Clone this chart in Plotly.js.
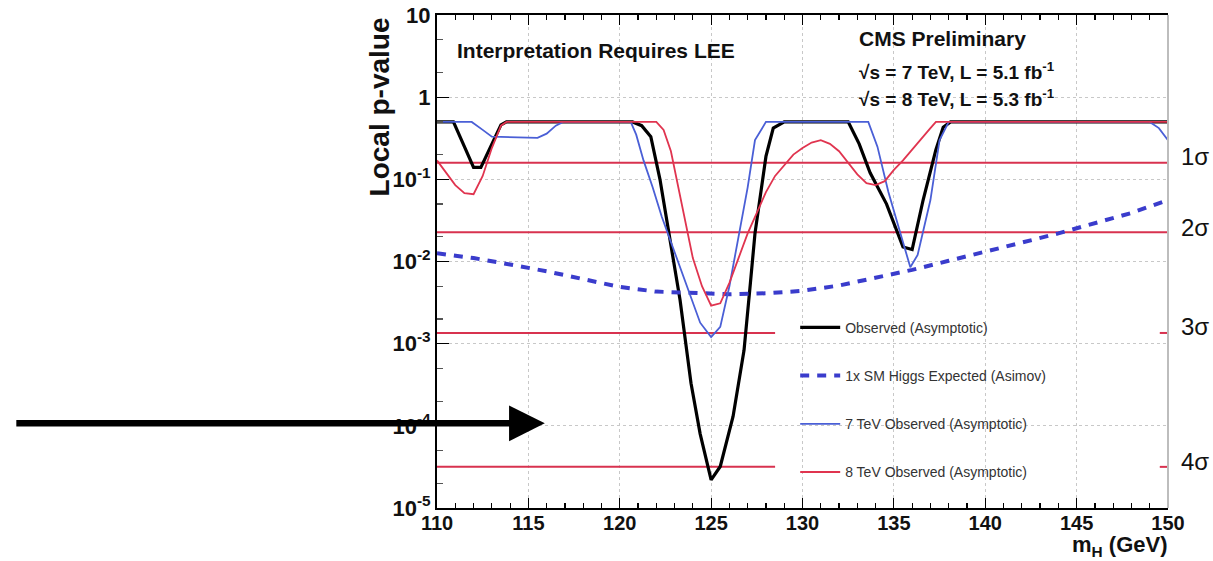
<!DOCTYPE html>
<html>
<head>
<meta charset="utf-8">
<script src="https://cdn.plot.ly/plotly-3.0.1.min.js"></script>
<style>html,body{margin:0;padding:0;background:#fff;}#chart{width:1213px;height:561px;}</style>
</head>
<body>
<div id="chart"></div>
<script>
// ---- data ----
const obsMass = [110, 110.9, 111.5, 112, 112.4, 113, 113.5, 113.8, 120.7, 121.2, 121.7, 122.2, 122.7, 123.3, 123.9, 124.4, 125, 125.5, 126.2, 126.8, 127.15, 127.4, 128, 128.4, 129, 132.5, 133.1, 133.7, 134.6, 135.5, 136, 136.6, 137.3, 137.7, 138.1, 150];
const obsP = [0.5, 0.5, 0.25, 0.14, 0.14, 0.27, 0.46, 0.5, 0.5, 0.45, 0.33, 0.1, 0.022, 0.0034, 3.3e-4, 8e-5, 2.2e-5, 3.2e-5, 1.3e-4, 8.3e-4, 0.0055, 0.022, 0.19, 0.42, 0.5, 0.5, 0.27, 0.12, 0.05, 0.015, 0.014, 0.056, 0.23, 0.43, 0.5, 0.5];

const expMass = [110, 112, 114, 116, 118, 120, 122, 124, 126, 128, 130, 132, 134, 136, 138, 140, 142, 144, 146, 148, 150];
const expP = [0.0126, 0.011, 0.0092, 0.0076, 0.0061, 0.0049, 0.0043, 0.0041, 0.004, 0.0041, 0.0044, 0.0051, 0.0063, 0.0079, 0.0102, 0.013, 0.017, 0.022, 0.029, 0.039, 0.056];

const tev7Mass = [110, 111.9, 112.5, 113, 115.5, 116, 116.5, 116.9, 120.6, 120.9, 121.3, 121.8, 122.3, 122.7, 123.3, 123.9, 124.4, 125, 125.5, 126, 126.5, 127, 127.4, 128, 133.6, 134.1, 134.7, 135.4, 135.9, 136.3, 137, 137.5, 138, 149, 149.5, 150];
const tev7P = [0.5, 0.5, 0.4, 0.33, 0.32, 0.36, 0.45, 0.5, 0.5, 0.35, 0.17, 0.08, 0.035, 0.02, 0.0085, 0.0037, 0.0018, 0.0012, 0.0016, 0.005, 0.02, 0.08, 0.3, 0.5, 0.5, 0.25, 0.07, 0.02, 0.0085, 0.012, 0.056, 0.3, 0.5, 0.5, 0.42, 0.3];

const tev8Mass = [110, 110.5, 111, 111.5, 112, 112.5, 113, 113.5, 113.8, 122, 122.4, 122.8, 123.2, 123.6, 124, 124.5, 125, 125.5, 126, 126.5, 127, 127.5, 128, 128.5, 129, 129.5, 130, 130.5, 131, 131.5, 132, 132.5, 133, 133.5, 134, 134.5, 135, 135.5, 136, 136.5, 137, 137.3, 150];
const tev8P = [0.17, 0.12, 0.085, 0.068, 0.066, 0.11, 0.24, 0.45, 0.5, 0.5, 0.4, 0.22, 0.08, 0.03, 0.011, 0.005, 0.0029, 0.0031, 0.0055, 0.011, 0.022, 0.039, 0.07, 0.11, 0.15, 0.2, 0.24, 0.28, 0.3, 0.27, 0.22, 0.16, 0.115, 0.09, 0.085, 0.095, 0.13, 0.17, 0.23, 0.32, 0.42, 0.5, 0.5];

const sigmaP = [0.1587, 0.02275, 0.00135, 3.167e-5];
const sigmaLabels = ["1σ", "2σ", "3σ", "4σ"];
const sigmaLabelY = [0.712, 0.568, 0.369, 0.095];
const seriesNames = ["Observed (Asymptotic)", "1x SM Higgs Expected (Asimov)", "7 TeV Observed (Asymptotic)", "8 TeV Observed (Asymptotic)"];

const xTicks = [110, 115, 120, 125, 130, 135, 140, 145, 150];
const yTickVals = [1e-5, 1e-4, 1e-3, 1e-2, 1e-1, 1, 10];
const yTickText = ['10<sup>-5</sup>', '10<sup>-4</sup>', '10<sup>-3</sup>', '10<sup>-2</sup>', '10<sup>-1</sup>', '1', '10'];

// ---- traces ----
const traces = [];
const sigColor = '#d8324f';
sigmaP.forEach((p, i) => {
  const full = i < 2;
  traces.push({
    x: full ? [110, 150] : [110, 128.5, null, 149.55, 149.95],
    y: full ? [p, p] : [p, p, null, p, p],
    mode: 'lines', line: {color: sigColor, width: 2},
    showlegend: false, hoverinfo: 'skip', connectgaps: false
  });
});
traces.push({x: obsMass, y: obsP, name: seriesNames[0], legendgroup: 'a', mode: 'lines', line: {color: '#000', width: 3.2}});
traces.push({x: expMass, y: expP, name: seriesNames[1], legendgroup: 'b', mode: 'lines', line: {color: '#3a3ccc', width: 4, dash: '9px,8px'}});
traces.push({x: tev7Mass, y: tev7P, name: seriesNames[2], legendgroup: 'c', mode: 'lines', line: {color: '#4a5fd6', width: 1.8}});
traces.push({x: tev8Mass, y: tev8P, name: seriesNames[3], legendgroup: 'd', mode: 'lines', line: {color: '#e0344f', width: 1.8}});

const F = 'Liberation Sans, Arial, sans-serif';
const annotations = [
  {xref: 'paper', yref: 'paper', x: 0.024, y: 0.927, xanchor: 'left', yanchor: 'middle', showarrow: false,
   text: 'Interpretation Requires LEE', font: {family: F, size: 21, color: '#111', weight: 'bold'}},
  {xref: 'paper', yref: 'paper', x: 0.574, y: 0.953, xanchor: 'left', yanchor: 'middle', showarrow: false,
   text: 'CMS Preliminary', font: {family: F, size: 21, color: '#111', weight: 'bold'}},
  {xref: 'paper', yref: 'paper', x: 0.574, y: 0.886, xanchor: 'left', yanchor: 'middle', showarrow: false,
   text: '√s = 7 TeV, L = 5.1 fb<sup>-1</sup>', font: {family: F, size: 19, color: '#111', weight: 'bold'}},
  {xref: 'paper', yref: 'paper', x: 0.574, y: 0.832, xanchor: 'left', yanchor: 'middle', showarrow: false,
   text: '√s = 8 TeV, L = 5.3 fb<sup>-1</sup>', font: {family: F, size: 19, color: '#111', weight: 'bold'}},
  {xref: 'paper', yref: 'paper', x: -0.079, y: 0.813, xanchor: 'center', yanchor: 'middle', showarrow: false, textangle: -90,
   text: 'Local p-value', font: {family: F, size: 28, color: '#111', weight: 'bold'}},
  {xref: 'paper', yref: 'paper', x: 1.0, y: -0.1075, xanchor: 'right', yanchor: 'bottom', showarrow: false, borderpad: 0,
   text: 'm<sub>H</sub> (GeV)', font: {family: F, size: 22, color: '#111', weight: 'bold'}},
  {xref: 'x', yref: 'y', x: 115.9, y: -3.97, axref: 'pixel', ayref: 'pixel', ax: -530, ay: 0,
   showarrow: true, arrowhead: 2, arrowwidth: 6.5, arrowsize: 1.1, arrowcolor: '#000', text: ''}
];
sigmaLabels.forEach((t, i) => annotations.push({
  xref: 'paper', yref: 'paper', x: 1.015, y: sigmaLabelY[i], xanchor: 'left', yanchor: 'middle', showarrow: false,
  text: t, font: {family: F, size: 24, color: '#111'}
}));

const layout = {
  width: 1213, height: 561,
  margin: {l: 437, r: 45, t: 15, b: 53, pad: 0},
  paper_bgcolor: '#fff', plot_bgcolor: '#fff',
  showlegend: true,
  legend: {x: 0.49, y: 0.398, xanchor: 'left', yanchor: 'top', traceorder: 'grouped', tracegroupgap: 27,
           bgcolor: 'rgba(0,0,0,0)', font: {family: F, size: 14, color: '#333'}, itemwidth: 40},
  xaxis: {
    type: 'linear', range: [110, 150], tickvals: xTicks, ticktext: xTicks.map(String),
    ticks: 'inside', ticklen: 10, tickwidth: 1.2, tickcolor: '#000', ticklabelstandoff: -4,
    showline: true, linecolor: '#000', linewidth: 2, mirror: 'ticks',
    showgrid: true, gridcolor: '#c8c8c8', griddash: 'dot', gridwidth: 1,
    zeroline: false,
    minor: {dtick: 1, ticks: 'inside', ticklen: 5, tickcolor: '#000', showgrid: false},
    tickfont: {family: F, size: 20, color: '#111', weight: 'bold'}
  },
  yaxis: {
    type: 'log', range: [-5, 1], tickvals: yTickVals, ticktext: yTickText,
    ticks: 'inside', ticklen: 12, tickwidth: 1.2, tickcolor: '#000',
    showline: true, linecolor: '#000', linewidth: 2, mirror: false,
    showgrid: true, gridcolor: '#c8c8c8', griddash: 'dot', gridwidth: 1,
    zeroline: false,
    minor: {ticks: 'inside', ticklen: 6, tickcolor: '#555', showgrid: false},
    tickfont: {family: F, size: 22, color: '#111', weight: 'bold'}
  },
  shapes: [
    {type: 'line', xref: 'paper', yref: 'paper', x0: 1, x1: 1, y0: 0, y1: 1, line: {color: '#bdbdbd', width: 2}}
  ],
  annotations: annotations
};

Plotly.newPlot('chart', traces, layout, {displayModeBar: false, staticPlot: true});
</script>
</body>
</html>
